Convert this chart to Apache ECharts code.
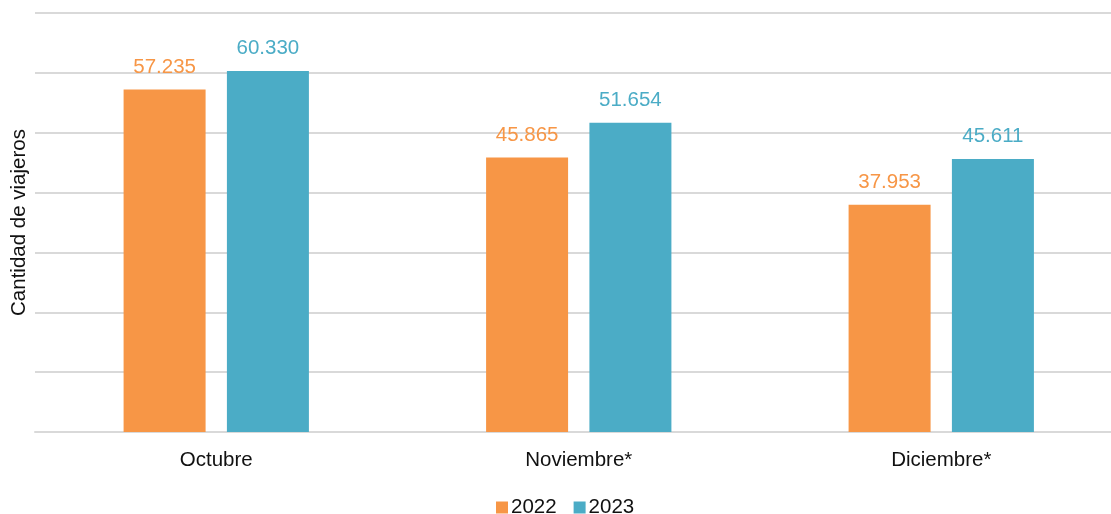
<!DOCTYPE html>
<html>
<head>
<meta charset="utf-8">
<script src="https://cdn.jsdelivr.net/npm/echarts@6/dist/echarts.min.js"></script>
<style>
html,body{margin:0;padding:0;background:#fff;}
#chart{width:1111px;height:514px;}
</style>
</head>
<body>
<div id="chart"></div>
<script>
const categories = ['Octubre', 'Noviembre*', 'Diciembre*'];
const values2022 = [57235, 45865, 37953];
const values2023 = [60330, 51654, 45611];
const seriesNames = ['2022', '2023'];

const fmt = v => v.toLocaleString('de-DE');
const FONT = '"Liberation Sans", Arial, Helvetica, sans-serif';
const FS = 20.5;

const chart = echarts.init(document.getElementById('chart'));
chart.setOption({
  animation: false,
  textStyle: { fontFamily: FONT },
  grid: { left: 35, width: 1087.5, top: 13, height: 419, outerBoundsMode: 'none', containLabel: false },
  legend: {
    data: seriesNames,
    top: 492,
    left: 491,
    itemWidth: 12,
    itemHeight: 12,
    itemGap: 17,
    icon: 'rect',
    textStyle: { fontSize: FS, color: '#111', fontFamily: FONT, padding: [0, 0, 0, -2] }
  },
  xAxis: {
    type: 'category',
    data: categories,
    axisLine: { lineStyle: { color: '#d9d9d9', width: 2 } },
    axisTick: { show: false },
    axisLabel: { fontSize: FS, color: '#111', margin: 18, fontFamily: FONT }
  },
  yAxis: {
    type: 'value',
    min: 0,
    max: 70000,
    interval: 10000,
    name: 'Cantidad de viajeros',
    nameLocation: 'middle',
    nameGap: 5,
    nameTextStyle: { fontSize: FS, color: '#111', fontFamily: FONT },
    axisLabel: { show: false },
    axisLine: { show: false },
    axisTick: { show: false },
    splitLine: { lineStyle: { color: '#d9d9d9', width: 2 } }
  },
  series: [
    {
      name: seriesNames[0],
      type: 'bar',
      data: values2022,
      barWidth: 82,
      barGap: '26%',
      itemStyle: { color: '#F79646' },
      label: { show: true, position: 'top', distance: 12, fontSize: FS, color: '#F79646', formatter: p => fmt(p.value), fontFamily: FONT }
    },
    {
      name: seriesNames[1],
      type: 'bar',
      data: values2023,
      barWidth: 82,
      barGap: '26%',
      itemStyle: { color: '#4BACC6' },
      label: { show: true, position: 'top', distance: 12, fontSize: FS, color: '#4BACC6', formatter: p => fmt(p.value), fontFamily: FONT }
    }
  ]
});
</script>
</body>
</html>
